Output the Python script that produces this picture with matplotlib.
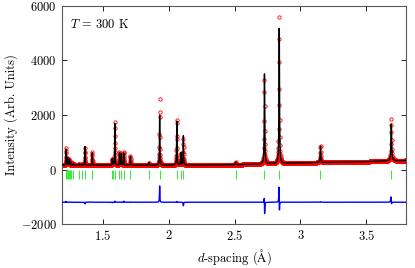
import numpy as np
import matplotlib
matplotlib.use("Agg")
import matplotlib.pyplot as plt

plt.rcParams['font.family'] = ['cmr10', 'DejaVu Serif']
plt.rcParams['mathtext.fontset'] = 'cm'
plt.rcParams['font.size'] = 9

peak_d = [1.221, 1.230, 1.238, 1.247, 1.256, 1.278, 1.321, 1.341, 1.365, 1.421,
          1.573, 1.581, 1.592, 1.627, 1.642, 1.660, 1.710, 1.850, 1.932, 2.062,
          2.093, 2.112, 2.508, 2.727, 2.839, 3.152, 3.689]
obs_h = [620, 280, 200, 230, 120, 60, 40, 40, 620, 470,
         220, 100, 1600, 480, 450, 500, 340, 100, 2440, 1720,
         450, 950, 90, 3120, 5460, 640, 1560]
calc_h = [590, 280, 200, 220, 120, 60, 40, 40, 680, 460,
          240, 100, 1560, 470, 440, 460, 330, 100, 1840, 1690,
          450, 1080, 90, 3300, 5280, 620, 1450]
# small position misfit of the refinement for the big peaks
calc_shift = {23: 0.0003, 24: 0.0003, 26: 0.0004}

bg_d = [1.19, 1.6, 2.0, 2.5, 3.0, 3.5, 3.8]
bg_i = [165, 160, 160, 175, 240, 290, 330]

refl_d = [1.223, 1.230, 1.238, 1.245, 1.253, 1.263, 1.278, 1.321, 1.341, 1.367,
          1.420, 1.573, 1.581, 1.591, 1.627, 1.642, 1.659, 1.710, 1.852, 1.932,
          2.061, 2.091, 2.111, 2.508, 2.727, 2.839, 3.152, 3.689]

diff_offset = -1200

d = 1.19 * np.exp(np.arange(2600) * 4.5e-4)
bg = np.interp(d, bg_d, bg_i)


def pattern(heights, shifts):
    y = bg.copy()
    for i, (p, h) in enumerate(zip(peak_d, heights)):
        p = p + shifts.get(i, 0.0)
        g = 0.0016 * p
        y += h / (1 + (2 * (d - p) / g) ** 2)
    return y


obs = pattern(obs_h, {})
calc = pattern(calc_h, calc_shift)

fig = plt.figure(figsize=(4.15, 2.68), dpi=100)
ax = fig.add_axes([0.149, 0.164, 0.829, 0.814])

ax.plot(d, obs, 'o', mfc='none', mec='red', ms=2.4, mew=0.6, zorder=2)
ax.plot(d, calc, color='black', lw=1.0, zorder=3)
ax.plot(d, obs - calc + diff_offset, color='blue', lw=1.0, zorder=3)
ax.vlines(refl_d, -350, -30, color='#33ee33', lw=0.7, zorder=3)

ax.text(0.025, 0.915, r'$T$ = 300 K', transform=ax.transAxes, va='center', ha='left')

ax.set_xlim(1.19, 3.8)
ax.set_ylim(-2000, 6000)
ax.set_xticks([1.5, 2, 2.5, 3, 3.5])
ax.set_xticklabels(['$1.5$', '$2$', '$2.5$', '$3$', '$3.5$'])
ax.set_yticks([-2000, 0, 2000, 4000, 6000])
ax.set_yticklabels(['$-2000$', '$0$', '$2000$', '$4000$', '$6000$'])
ax.tick_params(direction='in', top=True, right=True, length=3.5, width=0.6)
for s in ax.spines.values():
    s.set_linewidth(0.8)
    s.set_color('0.35')

ax.set_xlabel(r'$d$-spacing ($\mathrm{\AA}$)', labelpad=3)
ax.set_ylabel('Intensity (Arb. Units)', labelpad=2)

fig.savefig('out.png', dpi=100)
